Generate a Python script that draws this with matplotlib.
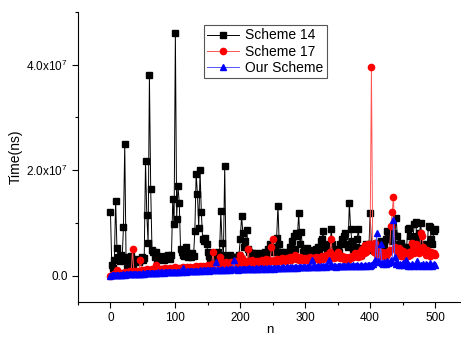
import numpy as np
import matplotlib
matplotlib.use("Agg")
import matplotlib.pyplot as plt
from matplotlib.ticker import MultipleLocator, FuncFormatter

plt.rcParams['font.family'] = ['Liberation Sans', 'DejaVu Sans']
plt.rcParams['mathtext.fontset'] = 'custom'
plt.rcParams['mathtext.rm'] = 'Liberation Sans'
plt.rcParams['mathtext.it'] = 'Liberation Sans'

# n = 0, 2, 4, ..., 500
n = np.arange(0, 501, 2)

# tiempos en millones de ns
scheme14 = [
    12.0, 2.0, 1.5, 3.0, 14.2, 5.2, 3.5, 2.8, 4.0, 3.2,
    9.2, 25.0, 3.5, 2.0, 3.0, 2.5, 3.8, 2.2, 3.0, 2.7,
    3.2, 2.8, 2.5, 3.0, 3.5, 2.9, 3.3, 21.7, 11.5, 6.2,
    38.0, 16.5, 4.8, 4.5, 3.5, 4.5, 3.0, 3.8, 3.2, 3.5,
    3.6, 3.0, 3.8, 3.3, 4.0, 3.5, 3.2, 3.9, 14.5, 9.7,
    46.0, 10.8, 17.0, 13.7, 5.0, 4.5, 4.0, 3.8, 5.5, 4.2,
    3.5, 4.0, 3.6, 4.2, 3.8, 8.5, 19.3, 15.5, 9.0, 20.0,
    12.0, 7.0, 6.5, 7.2, 6.0, 4.5, 3.8, 3.0, 4.2, 3.5,
    4.0, 3.3, 3.8, 4.5, 4.0, 12.2, 6.2, 4.0, 20.7, 3.5,
    3.8, 3.2, 4.0, 3.5, 3.0, 3.6, 2.8, 3.5, 3.2, 4.0,
    7.0, 11.3, 8.0, 5.5, 6.5, 8.7, 5.0, 4.5, 3.8, 4.2,
    4.0, 3.6, 4.2, 3.8, 3.3, 4.0, 3.5, 4.3, 3.8, 4.5,
    4.0, 5.0, 4.4, 6.0, 4.8, 5.5, 4.5, 5.0, 7.2, 13.3,
    6.0, 4.5, 4.0, 3.8, 4.5, 4.0, 3.5, 4.2, 5.5, 4.0,
    6.5, 7.5, 5.0, 8.0, 7.5, 11.8, 6.0, 8.2, 4.5, 5.0,
    4.8, 5.2, 4.5, 4.0, 4.8, 4.2, 3.8, 4.5, 5.0, 4.0,
    5.5, 5.0, 6.5, 7.0, 8.5, 5.5, 6.0, 5.0, 4.5, 4.0,
    8.8, 6.0, 4.2, 4.8, 4.0, 5.0, 4.5, 6.0, 7.0, 6.0,
    7.5, 8.0, 6.0, 5.5, 13.8, 8.8, 6.5, 5.0, 4.5, 5.5,
    7.0, 8.8, 4.8, 4.0, 5.2, 4.5, 5.0, 6.0, 5.5, 4.8,
    11.8, 6.0, 5.5, 4.8, 5.5, 6.2, 5.8, 5.0, 6.5, 5.5,
    4.8, 6.0, 7.0, 8.5, 7.5, 8.0, 7.0, 6.5, 8.0, 7.5,
    11.0, 7.5, 6.0, 5.0, 6.2, 5.5, 4.8, 5.5, 5.0, 8.8,
    9.0, 7.5, 6.0, 7.0, 9.8, 10.2, 7.5, 6.5, 8.0, 10.0,
    6.0, 5.5, 5.0, 4.5, 6.0, 9.5, 9.3, 7.0, 6.0, 8.5,
    8.8,
]

scheme17 = [
    0.0, 0.1, 0.2, 0.3, 0.5, 1.0, 0.4, 0.3, 0.5, 0.4,
    0.5, 0.6, 0.5, 0.7, 0.6, 0.8, 0.6, 5.0, 0.9, 0.7,
    0.8, 0.9, 0.7, 3.0, 1.0, 0.8, 1.1, 0.9, 1.2, 1.0,
    0.9, 1.1, 1.2, 1.0, 1.3, 2.0, 1.1, 1.2, 1.0, 1.3,
    1.2, 1.1, 1.4, 1.2, 1.3, 1.0, 1.4, 1.2, 1.5, 1.3,
    1.6, 1.3, 1.2, 1.5, 1.4, 1.3, 1.6, 1.4, 1.5, 1.7,
    1.4, 1.6, 1.5, 1.3, 1.7, 1.5, 1.8, 1.6, 1.5, 1.9,
    1.6, 1.8, 1.7, 1.5, 1.9, 2.0, 1.7, 1.9, 2.2, 4.5,
    2.0, 2.3, 1.8, 2.1, 3.5, 2.0, 2.4, 2.2, 1.9, 2.5,
    2.1, 2.3, 2.0, 2.6, 2.2, 2.4, 2.1, 2.8, 2.3, 2.5,
    4.0, 3.3, 2.6, 2.4, 2.8, 2.2, 5.0, 2.7, 2.5, 2.9,
    2.4, 2.6, 2.3, 2.8, 2.5, 2.7, 2.4, 3.0, 2.6, 2.8,
    3.2, 2.5, 2.9, 2.7, 5.5, 7.0, 3.0, 2.6, 3.2, 2.8,
    3.0, 2.7, 3.3, 2.9, 3.1, 2.8, 3.4, 3.0, 3.6, 2.9,
    3.2, 3.5, 4.0, 3.1, 3.3, 3.0, 3.6, 3.2, 2.9, 3.4,
    3.0, 3.3, 3.1, 2.8, 3.5, 3.2, 3.0, 3.4, 3.6, 3.1,
    3.3, 3.0, 3.5, 3.8, 3.2, 3.6, 4.0, 3.4, 3.3, 4.5,
    7.0, 3.6, 3.4, 3.9, 3.5, 4.5, 3.7, 3.3, 3.8, 3.5,
    3.2, 3.6, 3.4, 3.0, 3.5, 3.3, 3.8, 3.5, 4.2, 3.7,
    4.0, 3.6, 4.5, 3.8, 5.0, 4.2, 5.8, 4.5, 6.0, 5.5,
    6.0, 39.5, 5.0, 4.5, 6.2, 4.0, 4.8, 4.2, 3.8, 4.5,
    4.0, 4.3, 3.8, 4.5, 4.2, 4.8, 9.5, 12.0, 15.0, 5.5,
    5.0, 4.5, 5.2, 4.0, 3.8, 4.6, 4.2, 3.5, 4.0, 3.8,
    4.5, 4.0, 6.2, 5.0, 4.3, 6.0, 5.5, 4.8, 4.2, 8.0,
    7.5, 5.5, 4.5, 4.0, 4.8, 4.2, 3.8, 4.5, 4.0, 4.2,
    4.0,
]

our_scheme = [
    0.0, 0.05, 0.1, 0.1, 0.15, 0.1, 0.2, 0.15, 0.2, 0.2,
    0.25, 0.2, 0.25, 0.3, 0.25, 0.3, 0.3, 0.35, 0.3, 0.35,
    0.35, 0.4, 0.35, 0.4, 0.4, 0.45, 0.4, 0.45, 0.5, 0.45,
    0.5, 0.45, 0.5, 0.55, 0.5, 0.55, 0.5, 0.6, 0.55, 0.6,
    0.6, 0.55, 0.65, 0.6, 0.65, 0.6, 0.7, 0.65, 0.7, 0.7,
    0.75, 0.7, 0.7, 0.75, 0.8, 0.7, 1.5, 0.8, 0.75, 0.85,
    0.8, 0.85, 0.8, 0.9, 0.85, 0.9, 0.9, 0.95, 0.9, 1.0,
    0.95, 1.0, 0.9, 1.0, 1.05, 1.0, 0.95, 1.1, 1.0, 1.1,
    1.05, 2.5, 1.1, 1.0, 1.15, 1.1, 1.2, 1.1, 1.15, 1.2,
    1.1, 1.2, 1.15, 1.25, 1.2, 3.0, 1.2, 1.25, 1.15, 1.3,
    1.2, 1.3, 1.25, 1.2, 1.35, 1.3, 1.2, 1.4, 1.3, 1.25,
    1.35, 1.3, 1.4, 1.25, 1.35, 1.4, 1.3, 1.45, 1.35, 1.4,
    1.3, 1.45, 1.4, 1.35, 1.5, 1.4, 1.3, 1.45, 1.5, 1.4,
    1.45, 1.5, 1.4, 1.55, 1.45, 1.5, 1.6, 1.45, 1.55, 1.5,
    1.6, 1.5, 1.55, 1.65, 1.5, 1.6, 1.7, 1.55, 1.6, 1.65,
    1.6, 1.7, 1.65, 1.55, 1.7, 3.0, 1.65, 1.75, 1.7, 1.6,
    1.75, 1.7, 1.8, 1.65, 1.75, 1.8, 1.7, 1.85, 3.0, 1.75,
    1.8, 1.75, 1.9, 1.8, 1.7, 1.85, 1.8, 1.9, 1.75, 1.85,
    1.9, 1.8, 1.85, 1.95, 1.8, 1.9, 1.85, 2.0, 1.9, 1.8,
    1.95, 1.9, 1.8, 2.0, 1.85, 1.9, 2.0, 1.8, 1.95, 2.1,
    1.9, 2.0, 2.2, 2.5, 3.0, 8.0, 2.8, 2.5, 6.0, 2.4,
    2.3, 2.6, 2.2, 2.8, 2.4, 2.5, 3.0, 2.6, 10.5, 3.5,
    2.2, 2.5, 2.0, 2.3, 2.1, 2.4, 2.0, 2.2, 3.0, 1.9,
    2.1, 1.8, 2.3, 2.0, 1.9, 2.2, 2.8, 1.9, 2.1, 2.0,
    1.8, 2.2, 1.9, 2.3, 2.0, 1.8, 2.4, 2.1, 1.9, 2.2,
    2.0,
]

fig = plt.figure(figsize=(4.61, 3.40), dpi=100)
ax = fig.add_axes([78 / 461, 38 / 340, 383 / 461, 290 / 340])

ax.plot(n, np.array(scheme14) * 1e6, color='black', lw=0.7, marker='s', ms=4.3,
        mec='black', mfc='black', label='Scheme 14')
ax.plot(n, np.array(scheme17) * 1e6, color='#ff5555', lw=0.7, marker='o', ms=4.5,
        mec='red', mfc='red', label='Scheme 17')
ax.plot(n, np.array(our_scheme) * 1e6, color='#5555ff', lw=0.7, marker='^', ms=4.5,
        mec='blue', mfc='blue', label='Our Scheme')

ax.set_xlim(-50, 540)
ax.set_ylim(-0.5e7, 5e7)

ax.spines['top'].set_visible(False)
ax.spines['right'].set_visible(False)

ax.xaxis.set_major_locator(MultipleLocator(100))
ax.xaxis.set_minor_locator(MultipleLocator(50))
ax.yaxis.set_major_locator(MultipleLocator(2e7))
ax.yaxis.set_minor_locator(MultipleLocator(1e7))


def fmt_y(v, pos):
    if abs(v) < 1:
        return '0.0'
    return '%.1fx10$^{7}$' % (v / 1e7)


ax.yaxis.set_major_formatter(FuncFormatter(fmt_y))
ax.tick_params(which='major', direction='out', length=4, width=0.8, labelsize=8.5)
ax.tick_params(which='minor', direction='out', length=2.5, width=0.8)

ax.set_xlabel('n', fontsize=9.5)
ax.xaxis.set_label_coords(0.5, -0.075)
ax.set_ylabel('Time(ns)', fontsize=10)
ax.yaxis.set_label_coords(-0.145, 0.5)

leg = ax.legend(loc='upper left', bbox_to_anchor=(204 / 461, 1 - 25 / 340),
                bbox_transform=fig.transFigure, borderaxespad=0, fontsize=10,
                fancybox=False, framealpha=1, edgecolor='#555555',
                handlelength=2.3, handletextpad=0.4, borderpad=0.25,
                labelspacing=0.15)
leg.get_frame().set_linewidth(0.8)

fig.savefig('out.png', dpi=100)
